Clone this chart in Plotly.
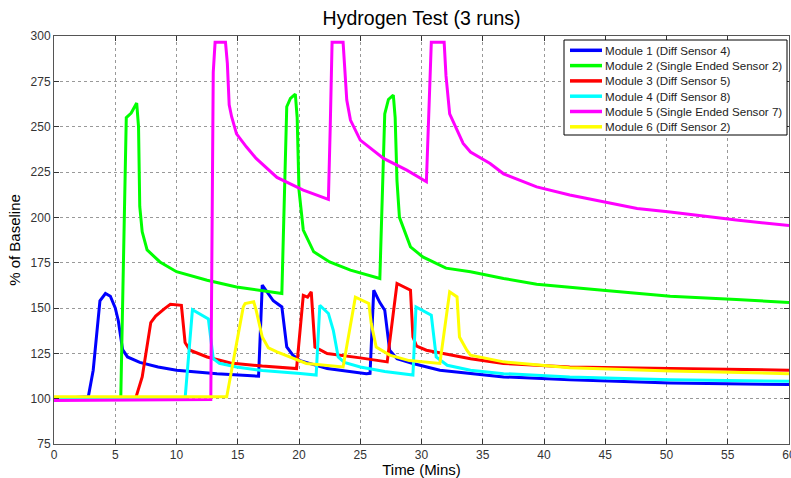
import plotly.graph_objects as go

# ---- data (minutes, % of baseline) ----
m1_t = [0, 2.8, 3.2, 3.75, 4.2, 4.6, 5.0, 5.25, 5.6, 6.0, 7.0, 8.5, 10, 13.3, 16.7, 17.0, 17.9, 18.6, 19.0, 19.5, 20.1, 22.3, 25.5, 25.8, 26.1, 26.6, 27.0, 27.4, 28.0, 29.3, 31.5, 34.0, 36.7, 42.1, 50.3, 60]
m1_v = [100, 101, 115.7, 154, 158, 156.5, 150, 143, 127, 123, 120, 117.5, 115.7, 113.8, 112.4, 162.6, 154, 150.6, 128.5, 124, 121, 116.6, 113.8, 114, 159.8, 153, 148.8, 126.7, 122, 119.4, 115.7, 113.8, 112, 110.5, 108.7, 107.8]

m2_t = [0, 5.45, 5.9, 6.3, 6.75, 6.9, 7.0, 7.2, 7.6, 8.65, 10, 12.5, 14.9, 18.6, 19.0, 19.3, 19.7, 19.85, 20.0, 20.35, 21.2, 22.5, 24.2, 26.6, 27.0, 27.3, 27.7, 27.85, 28.0, 28.2, 29.1, 30.1, 32.0, 34.0, 36.7, 39.4, 44.8, 50.3, 55.7, 60]
m2_v = [100, 100, 255, 257.5, 263, 250, 206, 192, 182, 175.4, 170, 165.3, 161.6, 158, 261, 265.6, 268, 255, 215, 193, 181, 175.4, 170.9, 166.3, 257, 265, 267.4, 255, 220, 200, 183.7, 178.2, 172, 170, 166.3, 163.1, 159.8, 156.5, 154.7, 153]

m3_t = [0, 6.6, 6.7, 7.2, 7.9, 8.3, 9.0, 9.5, 10.4, 10.7, 11.1, 12.5, 14.4, 17.0, 19.8, 20.35, 20.7, 21.0, 21.3, 22.3, 25.0, 27.2, 28.0, 29.1, 29.3, 29.6, 30.4, 32.5, 34.0, 36.7, 42.1, 50.3, 60]
m3_v = [100, 100.5, 101, 112, 142, 145.5, 149.5, 152, 151.5, 131, 126.7, 123, 119.7, 118, 116.6, 157, 156, 158.9, 128.5, 124.9, 122.5, 120.3, 163.5, 159.8, 134, 129, 126.7, 124, 122, 119.4, 117.5, 116.6, 115.7]

m4_t = [0, 10.7, 11.3, 12.6, 13.0, 13.5, 14.9, 17.0, 20.1, 21.4, 21.7, 22.4, 22.8, 23.2, 23.7, 25.0, 27.0, 29.3, 29.55, 30.8, 31.2, 32.1, 34.0, 36.7, 42.1, 50.3, 60]
m4_v = [100, 100, 149, 144, 122, 119.5, 117.5, 115.5, 113.9, 113, 151.5, 147, 137.7, 123, 120, 117.5, 115, 113, 150.6, 146, 123, 118.4, 115.7, 113.8, 112, 110.5, 109.6]

m5_t = [0, 12.8, 13.0, 13.15, 14.0, 14.15, 14.3, 14.5, 14.9, 15.7, 16.5, 18.2, 20.35, 22.4, 22.55, 22.7, 23.6, 23.75, 23.9, 24.2, 25.0, 26.9, 28.8, 30.4, 30.6, 30.8, 31.85, 32.0, 32.3, 33.4, 34.0, 35.6, 36.7, 39.4, 42.1, 44.8, 47.6, 50.3, 53.0, 55.7, 60]
m5_v = [99, 99.5, 280, 296.5, 296.5, 285, 262, 255.5, 246, 238.9, 232.5, 222, 215, 209.9, 250, 296.5, 296.5, 278, 264.7, 253.6, 242.6, 232.5, 226, 219.6, 260, 296.5, 296.5, 278, 257, 240.8, 236, 229.7, 224, 216.8, 212.3, 208.6, 204.9, 203, 200.7, 198.5, 195.5]

m6_t = [0, 14.1, 15.45, 15.6, 16.3, 16.5, 17.0, 17.5, 18.2, 19.9, 20.6, 23.6, 24.6, 25.7, 25.9, 26.3, 27.4, 29.0, 31.5, 32.3, 32.9, 33.1, 33.7, 34.0, 36.7, 42.1, 50.3, 60]
m6_v = [101, 101, 150.6, 152.5, 153.4, 148.8, 134, 128, 125.8, 121.2, 119.4, 117.5, 156, 152.5, 141.4, 128.5, 124, 121, 119.4, 158.9, 156.1, 134, 126.7, 124, 120.3, 117.1, 115.3, 113.8]

names = ["Module 1 (Diff Sensor 4)", "Module 2 (Single Ended Sensor 2)", "Module 3 (Diff Sensor 5)",
         "Module 4 (Diff Sensor 8)", "Module 5 (Single Ended Sensor 7)", "Module 6 (Diff Sensor 2)"]
colors = ["#0000ff", "#00ff00", "#ff0000", "#00ffff", "#ff00ff", "#ffff00"]
series = [(m1_t, m1_v), (m2_t, m2_v), (m3_t, m3_v), (m4_t, m4_v), (m5_t, m5_v), (m6_t, m6_v)]

x_ticks = list(range(0, 61, 5))
y_ticks = list(range(75, 301, 25))

fig = go.Figure()
for (t, v), n, c in zip(series, names, colors):
    fig.add_trace(go.Scatter(x=t, y=v, mode="lines", name=n,
                             line=dict(color=c, width=3), showlegend=False))

axis_common = dict(showline=True, linecolor="#555555", linewidth=1, mirror="ticks",
                   ticks="inside", ticklen=5, tickcolor="#333333",
                   showgrid=True, gridcolor="#999999", griddash="dot", gridwidth=1,
                   zeroline=False, tickfont=dict(size=12, color="#333333"),
                   ticklabeloverflow="allow", automargin=False)

# ---- compact legend box (MATLAB style), placed in paper coordinates ----
L, R, T, B = 54, 789, 36, 444          # plot area in pixels
def px(x):
    return (x - L) / (R - L)
def py(y):
    return (B - y) / (B - T)

box_l, box_r, box_t, box_b = 564, 787, 40, 135
row0, row_step = 50.3, 15.3
shapes = [dict(type="rect", xref="paper", yref="paper", x0=px(box_l), x1=px(box_r),
               y0=py(box_b), y1=py(box_t), fillcolor="white",
               line=dict(color="#000000", width=1), layer="above")]
annotations = []
for i, (n, c) in enumerate(zip(names, colors)):
    yy = row0 + i * row_step
    shapes.append(dict(type="line", xref="paper", yref="paper", x0=px(570), x1=px(602),
                       y0=py(yy), y1=py(yy), line=dict(color=c, width=3.5), layer="above"))
    annotations.append(dict(text=n, xref="paper", yref="paper", x=px(603), y=py(yy),
                            xanchor="left", yanchor="middle", showarrow=False,
                            font=dict(size=11.6, color="#222222")))

fig.update_layout(
    width=791, height=478,
    margin=dict(l=54, r=2, t=36, b=34, autoexpand=False),
    paper_bgcolor="white", plot_bgcolor="white",
    font=dict(family="Liberation Sans, Arial, sans-serif", color="#000000"),
    title=dict(text="Hydrogen Test (3 runs)", x=0.533, xanchor="center", y=0.962, yanchor="middle",
               font=dict(size=19.5, color="#000000")),
    xaxis=dict(range=[0, 60], tickvals=x_ticks,
               title=dict(text="Time (Mins)", font=dict(size=15), standoff=2), **axis_common),
    yaxis=dict(range=[75, 300], tickvals=y_ticks,
               title=dict(text="% of Baseline", font=dict(size=15), standoff=6), **axis_common),
    shapes=shapes,
    annotations=annotations,
    showlegend=False,
)

fig.write_html("out.html")
